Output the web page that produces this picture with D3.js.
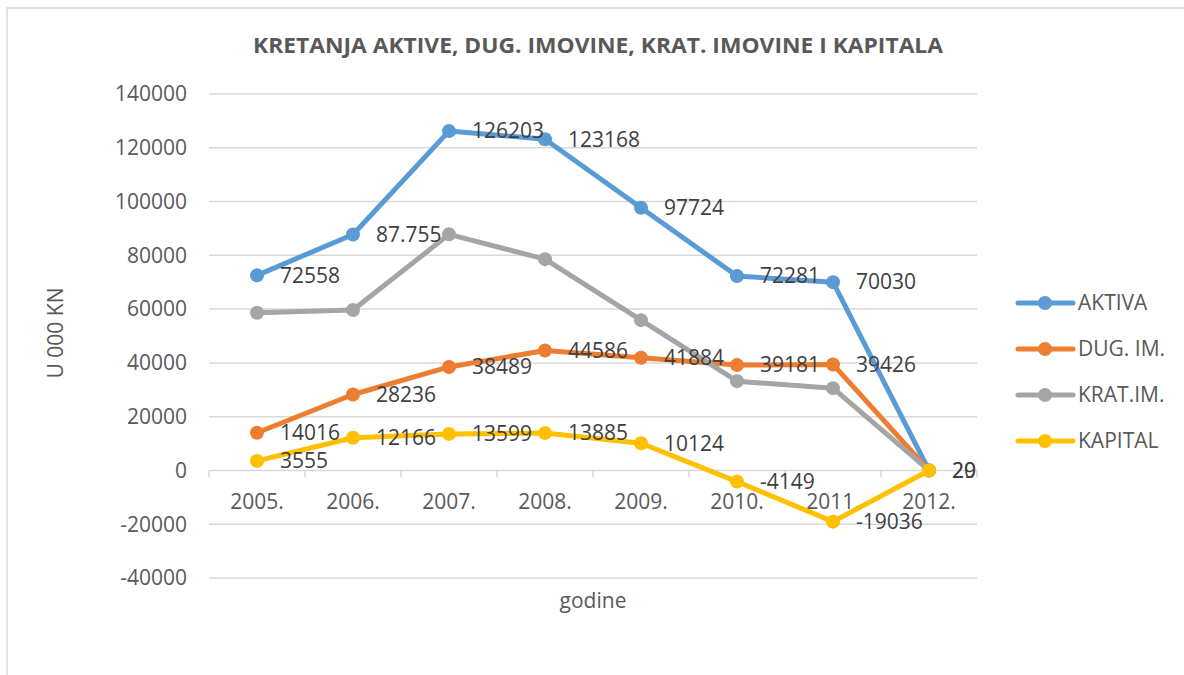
<!DOCTYPE html>
<meta charset="utf-8">
<style>
body { margin: 0; background: #fff; }
text { font-family: "Open Sans", sans-serif; }
.grid line { stroke: #d9d9d9; stroke-width: 1.5; }
.axis text { fill: #595959; font-size: 21px; }
.lbl { fill: #404040; font-size: 21px; }
</style>
<svg width="1184" height="675"></svg>
<script src="https://d3js.org/d3.v7.min.js"></script>
<script>

var years = ["2005.", "2006.", "2007.", "2008.", "2009.", "2010.", "2011.", "2012."];
var yTicks = [-40000, -20000, 0, 20000, 40000, 60000, 80000, 100000, 120000, 140000];

var aktiva  = [72558, 87755, 126203, 123168, 97724, 72281, 70030, 20];
var dugIm   = [14016, 28236, 38489, 44586, 41884, 39181, 39426, 29];
var kratIm  = [58660, 59650, 87800, 78581, 55900, 33200, 30600, 0];
var kapital = [3555, 12166, 13599, 13885, 10124, -4149, -19036, 0];

// data labels shown on the chart (null = no label)
var aktivaLbl  = ["72558", "87.755", "126203", "123168", "97724", "72281", "70030", "20"];
var dugImLbl   = ["14016", "28236", "38489", "44586", "41884", "39181", "39426", "29"];
var kratImLbl  = [null, null, null, "78581", null, null, null, null];
var kapitalLbl = ["3555", "12166", "13599", "13885", "10124", "-4149", "-19036", null];

var series = [
  {name: "AKTIVA",   color: "#5b9bd5", values: aktiva,  labels: aktivaLbl},
  {name: "DUG. IM.", color: "#ed7d31", values: dugIm,   labels: dugImLbl},
  {name: "KRAT.IM.", color: "#a5a5a5", values: kratIm,  labels: kratImLbl},
  {name: "KAPITAL",  color: "#ffc000", values: kapital, labels: kapitalLbl}
];

var svg = d3.select("svg");

// outer chart border
svg.append("rect")
    .attr("x", 7).attr("y", 8)
    .attr("width", 1200).attr("height", 700)
    .attr("fill", "none")
    .attr("stroke", "#d9d9d9")
    .attr("stroke-width", 1.5);

var x = d3.scaleBand().domain(years).range([209, 977]),
    y = d3.scaleLinear().domain([-40000, 140000]).range([578, 94]);

var cx = function(i) { return x(years[i]) + x.bandwidth() / 2; };

// gridlines
svg.append("g").attr("class", "grid")
  .selectAll("line")
  .data(yTicks)
  .enter().append("line")
    .attr("x1", 209).attr("x2", 977)
    .attr("y1", function(d) { return y(d); })
    .attr("y2", function(d) { return y(d); });

// y tick labels
svg.append("g").attr("class", "axis")
  .selectAll("text")
  .data(yTicks)
  .enter().append("text")
    .attr("x", 187)
    .attr("y", function(d) { return y(d); })
    .attr("dy", "0.35em")
    .attr("text-anchor", "end")
    .text(function(d) { return d; });

// category axis on the zero line
var xAxis = svg.append("g").attr("class", "axis");
xAxis.selectAll("line")
  .data(d3.range(years.length + 1))
  .enter().append("line")
    .attr("x1", function(i) { return 209 + i * x.bandwidth(); })
    .attr("x2", function(i) { return 209 + i * x.bandwidth(); })
    .attr("y1", y(0)).attr("y2", y(0) + 7)
    .attr("stroke", "#d9d9d9").attr("stroke-width", 1.5);
xAxis.selectAll("text")
  .data(years)
  .enter().append("text")
    .attr("x", function(d) { return x(d) + x.bandwidth() / 2; })
    .attr("y", y(0) + 31)
    .attr("dy", "0.35em")
    .attr("text-anchor", "middle")
    .text(function(d) { return d; });

// lines and markers
var line = d3.line()
    .x(function(d, i) { return cx(i); })
    .y(function(d) { return y(d); });

series.forEach(function(s) {
  svg.append("path")
      .datum(s.values)
      .attr("fill", "none")
      .attr("stroke", s.color)
      .attr("stroke-width", 5)
      .attr("stroke-linejoin", "round")
      .attr("d", line);
  svg.append("g").selectAll("circle")
    .data(s.values)
    .enter().append("circle")
      .attr("cx", function(d, i) { return cx(i); })
      .attr("cy", function(d) { return y(d); })
      .attr("r", 7)
      .attr("fill", s.color);
});

// data labels
series.forEach(function(s) {
  svg.append("g").selectAll("text")
    .data(s.values)
    .enter().filter(function(d, i) { return s.labels[i] != null; })
    .append("text")
      .attr("class", "lbl")
      .attr("x", function(d, i) { return cx(i) + 23; })
      .attr("y", function(d) { return y(d); })
      .attr("dy", "0.35em")
      .text(function(d, i) { return s.labels[i]; });
});

// legend
var legend = svg.append("g").selectAll("g")
  .data(series)
  .enter().append("g")
    .attr("transform", function(d, i) { return "translate(1018," + (303 + i * 46) + ")"; });
legend.append("line")
    .attr("x1", 0).attr("x2", 55)
    .attr("stroke", function(d) { return d.color; })
    .attr("stroke-width", 5)
    .attr("stroke-linecap", "round");
legend.append("circle")
    .attr("cx", 27).attr("r", 7)
    .attr("fill", function(d) { return d.color; });
legend.append("text")
    .attr("x", 60)
    .attr("dy", "0.35em")
    .style("fill", "#595959")
    .style("font-size", "21px")
    .text(function(d) { return d.name; });

// title
svg.append("text")
    .attr("x", 598).attr("y", 46)
    .attr("dy", "0.35em")
    .attr("text-anchor", "middle")
    .attr("font-weight", "bold")
    .attr("textLength", 690)
    .attr("lengthAdjust", "spacingAndGlyphs")
    .style("fill", "#595959")
    .style("font-size", "21px")
    .text("KRETANJA AKTIVE, DUG. IMOVINE, KRAT. IMOVINE I KAPITALA");

// axis titles
svg.append("text")
    .attr("transform", "translate(56,333) rotate(-90)")
    .attr("dy", "0.35em")
    .attr("text-anchor", "middle")
    .style("fill", "#595959")
    .style("font-size", "21px")
    .text("U 000 KN");

svg.append("text")
    .attr("x", 593).attr("y", 601)
    .attr("dy", "0.35em")
    .attr("text-anchor", "middle")
    .style("fill", "#595959")
    .style("font-size", "21px")
    .text("godine");

</script>
